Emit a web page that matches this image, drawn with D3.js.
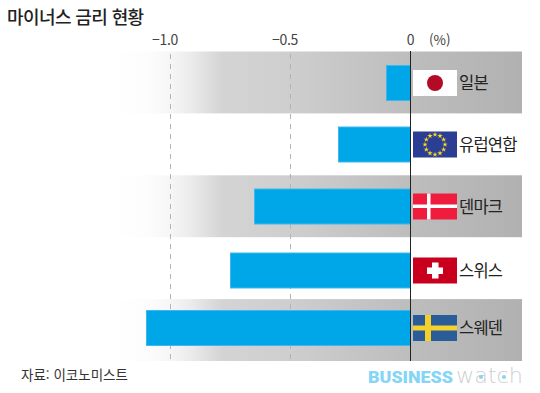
<!DOCTYPE html>
<html lang="ko">
<head>
<meta charset="utf-8">
<title>마이너스 금리 현황</title>
<script src="https://cdn.jsdelivr.net/npm/d3@7"></script>
<style>
	html, body { margin: 0; padding: 0; background: #fff; }
	svg { display: block; }
	text { font-family: "Noto Sans CJK KR", "Noto Sans", sans-serif; }
</style>
</head>
<body>
<script>
// data
var countries = ["일본", "유럽연합", "덴마크", "스위스", "스웨덴"];
var rates = [-0.1, -0.3, -0.65, -0.75, -1.1];
var flagKeys = ["jp", "eu", "dk", "ch", "se"];
var tickValues = [-1.0, -0.5, 0];
var tickLabels = ["−1.0", "−0.5", "0"];

var w = 540, h = 393;

var x = d3.scaleLinear().domain([-1, 0]).range([170.5, 410.5]);
// the rows in the original are not evenly spaced
var rowY = d3.scaleOrdinal().domain(countries).range([83, 144.5, 206.5, 270.5, 328]);
var stripeY = d3.scaleBand().domain(countries).range([51.5, 361]);
var barH = 35;

var svg = d3.select("body").append("svg").attr("width", w).attr("height", h);

var grad = svg.append("defs").append("linearGradient").attr("id", "stripe");
[[0, "#fff"], [0.086, "#fcfcfc"], [0.135, "#f6f6f6"], [0.184, "#ececec"],
 [0.263, "#d4d4d4"], [0.43, "#cecece"], [0.725, "#bdbdbd"], [1, "#b1b1b1"]].forEach(function(s) {
	grad.append("stop").attr("offset", s[0]).attr("stop-color", s[1]);
});

// grey stripes on every other row
svg.selectAll(".stripe")
	.data(countries.filter(function(d, i) { return i % 2 == 0; }))
	.enter().append("rect")
	.attr("class", "stripe")
	.attr("x", 115)
	.attr("width", 407)
	.attr("y", function(d) { return stripeY(d); })
	.attr("height", stripeY.bandwidth())
	.attr("fill", "url(#stripe)");

// dashed grid
svg.selectAll(".grid")
	.data(tickValues.slice(0, 2))
	.enter().append("line")
	.attr("class", "grid")
	.attr("x1", function(d) { return x(d); })
	.attr("x2", function(d) { return x(d); })
	.attr("y1", 54)
	.attr("y2", 360)
	.attr("stroke", "#b4b4b4")
	.attr("stroke-dasharray", "5 5");

// bars
svg.selectAll(".bar")
	.data(rates)
	.enter().append("rect")
	.attr("class", "bar")
	.attr("x", function(d) { return x(d); })
	.attr("width", function(d) { return x(0) - x(d); })
	.attr("y", function(d, i) { return rowY(countries[i]) - barH / 2; })
	.attr("height", barH)
	.attr("fill", "#00a7e8")
	.attr("stroke", "#3cb9ea")
	.attr("stroke-width", 1);

// zero line
svg.append("line")
	.attr("x1", x(0)).attr("x2", x(0))
	.attr("y1", 51).attr("y2", 361)
	.attr("stroke", "#222")
	.attr("stroke-width", 1);

// tick labels
svg.selectAll(".tick")
	.data(tickValues)
	.enter().append("text")
	.attr("class", "tick")
	.attr("x", function(d) { return d == 0 ? x(d) : x(d) - 5.5; })
	.attr("y", 45)
	.attr("text-anchor", "middle")
	.attr("font-size", 14)
	.attr("letter-spacing", -0.3)
	.attr("fill", "#444")
	.text(function(d, i) { return tickLabels[i]; });

svg.append("text")
	.attr("x", 429).attr("y", 45)
	.attr("font-size", 13.5)
	.attr("fill", "#444")
	.text("(%)");

// flags
var flagW = 44, flagH = 26;
function rect(g, xx, yy, ww, hh, c) {
	g.append("rect").attr("x", xx).attr("y", yy).attr("width", ww).attr("height", hh).attr("fill", c);
}
var flags = {
	jp: function(g) {
		rect(g, 0, 0, flagW, flagH, "#fff");
		g.append("circle").attr("cx", 22).attr("cy", 13).attr("r", 8).attr("fill", "#b30a26");
	},
	eu: function(g) {
		rect(g, 0, 0, flagW, flagH, "#2c3e93");
		d3.range(12).forEach(function(i) {
			var a = i / 12 * 2 * Math.PI;
			g.append("path")
				.attr("d", d3.symbol().type(d3.symbolStar).size(9))
				.attr("transform", "translate(" + (22 + 10 * Math.sin(a)) + "," + (13 - 10 * Math.cos(a)) + ")")
				.attr("fill", "#f5d922");
		});
	},
	dk: function(g) {
		rect(g, 0, 0, flagW, flagH, "#ef1c3e");
		rect(g, 14, 0, 3.5, flagH, "#fff");
		rect(g, 0, 11, flagW, 3.5, "#fff");
	},
	ch: function(g) {
		rect(g, 0, 0, flagW, flagH, "#c8001e");
		rect(g, 19, 5, 6.5, 16, "#fff");
		rect(g, 14, 10, 16, 6.5, "#fff");
	},
	se: function(g) {
		rect(g, 0, 0, flagW, flagH, "#2b5c9a");
		rect(g, 12, 0, 6, flagH, "#f6d02a");
		rect(g, 0, 10.5, flagW, 5, "#f6d02a");
	}
};
countries.forEach(function(c, i) {
	var g = svg.append("g").attr("transform", "translate(413," + (rowY(c) - flagH / 2) + ")");
	flags[flagKeys[i]](g);
});

// country names
svg.selectAll(".name")
	.data(countries)
	.enter().append("text")
	.attr("class", "name")
	.attr("x", 459)
	.attr("y", function(d) { return rowY(d) + 6; })
	.attr("font-size", 16.5)
	.attr("letter-spacing", -0.8)
	.attr("fill", "#222")
	.text(function(d) { return d; });

// title, source, logo
svg.append("text")
	.attr("x", 7).attr("y", 24)
	.attr("font-size", 18)
	.attr("font-weight", 500)
	.attr("letter-spacing", -0.6)
	.attr("fill", "#222")
	.text("마이너스 금리 현황");

svg.append("text")
	.attr("x", 21).attr("y", 380)
	.attr("font-size", 13.5)
	.attr("fill", "#333")
	.text("자료: 이코노미스트");

svg.append("text")
	.attr("x", 368).attr("y", 383)
	.style("font-family", "Roboto, sans-serif")
	.attr("font-size", 17)
	.attr("font-weight", 900)
	.attr("textLength", 85)
	.attr("lengthAdjust", "spacingAndGlyphs")
	.attr("fill", "#84d5f6")
	.text("BUSINESS");

svg.append("text")
	.attr("x", 456).attr("y", 383)
	.style("font-family", "'DejaVu Sans', sans-serif")
	.attr("font-size", 22)
	.attr("font-weight", 200)
	.attr("textLength", 67)
	.attr("lengthAdjust", "spacingAndGlyphs")
	.attr("fill", "#cfcfcf")
	.text("watch");

// blue dots inside the a and c of the logo
svg.selectAll(".logodot")
	.data([481, 504])
	.enter().append("circle")
	.attr("class", "logodot")
	.attr("cx", function(d) { return d; })
	.attr("cy", 377)
	.attr("r", 2)
	.attr("fill", "#84d5f6");
</script>
</body>
</html>
